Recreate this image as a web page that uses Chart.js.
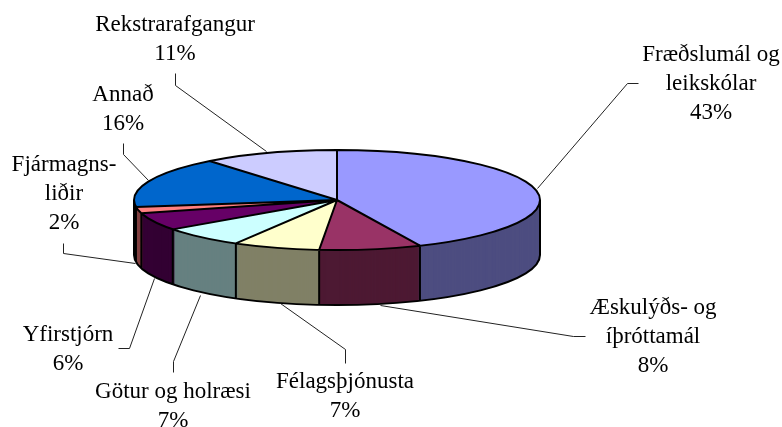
<!DOCTYPE html>
<html>
<head>
<meta charset="utf-8">
<style>
  html, body { margin: 0; padding: 0; background: #fff; overflow: hidden; }
  canvas { display: block; }
</style>
<script src="https://cdn.jsdelivr.net/npm/chart.js@4/dist/chart.umd.min.js"></script>
</head>
<body>
<canvas id="pie3d" width="782" height="427"></canvas>
<script>
// values in percent, clockwise from 12 o'clock
const categories = ['Fræðslumál og leikskólar', 'Æskulýðs- og íþróttamál', 'Félagsþjónusta', 'Götur og holræsi', 'Yfirstjórn', 'Fjármagnsliðir', 'Annað', 'Rekstrarafgangur'];
const values = [43.3, 8.1, 6.9, 6.7, 5.7, 2.1, 16.4, 10.8];
const topColors = ['#9999FF', '#993366', '#FFFFCC', '#CCFFFF', '#660066', '#FF8080', '#0066CC', '#CCCCFF'];
const sideColors = ['#4D4D80', '#4D1933', '#808066', '#668080', '#330033', '#804040', '#003366', '#666680'];
const labelLines = [
  ['Fræðslumál og', 'leikskólar'],
  ['Æskulýðs- og', 'íþróttamál'],
  ['Félagsþjónusta'],
  ['Götur og holræsi'],
  ['Yfirstjórn'],
  ['Fjármagns-', 'liðir'],
  ['Annað'],
  ['Rekstrarafgangur']
];

// layout of the squashed pie and its callouts, in page pixels
const pie = {cx: 337, cy: 200, rx: 203, ry: 50, depth: 55};
const labelPos = [[711, 61], [653, 314], [345, 388], [173, 398], [68, 341], [64, 171], [123, 101], [175, 31]];
const leaders = [
  [[638, 83], [627, 83], [537, 188]],
  [[585, 336], [573, 336], [380, 305]],
  [[345, 363], [345, 349], [280, 303]],
  [[173, 372], [173, 361], [200, 295]],
  [[118, 348], [129, 348], [154, 278]],
  [[63, 243], [63, 253], [135, 263]],
  [[123, 143], [123, 154], [148, 180]],
  [[175, 73], [175, 85], [266, 151]]
];

function squash(ctx, arc, dy){
  const k = arc.outerRadius;
  ctx.translate(pie.cx, pie.cy + dy);
  ctx.scale(pie.rx / k, pie.ry / k);
  ctx.translate(-arc.x, -arc.y);
}

const pie3d = {
  id: 'pie3d',
  beforeDatasetsDraw(chart){
    const ctx = chart.ctx;
    const arcs = chart.getDatasetMeta(0).data;
    // stack darker copies of the slices to build the rim
    for (let d = pie.depth; d > 0; d--){
      arcs.forEach(function(arc, i){
        const saved = arc.options;
        arc.options = Object.assign({}, saved, {backgroundColor: sideColors[i]});
        ctx.save();
        squash(ctx, arc, d);
        arc.draw(ctx);
        ctx.restore();
        arc.options = saved;
      });
    }
    ctx.save();
    squash(ctx, arcs[0], 0);
  },
  afterDatasetsDraw(chart){
    const ctx = chart.ctx;
    const arcs = chart.getDatasetMeta(0).data;
    ctx.restore();

    // outlines go on afterwards so the line width is not squashed too
    ctx.save();
    ctx.strokeStyle = '#000';
    ctx.lineWidth = 2;
    ctx.lineJoin = 'round';
    ctx.beginPath();
    ctx.ellipse(pie.cx, pie.cy, pie.rx, pie.ry, 0, 0, Math.PI * 2);
    ctx.moveTo(pie.cx + pie.rx, pie.cy);
    ctx.lineTo(pie.cx + pie.rx, pie.cy + pie.depth);
    ctx.ellipse(pie.cx, pie.cy + pie.depth, pie.rx, pie.ry, 0, 0, Math.PI);
    ctx.lineTo(pie.cx - pie.rx, pie.cy);
    arcs.forEach(function(arc){
      const px = pie.cx + Math.cos(arc.startAngle) * pie.rx;
      const py = pie.cy + Math.sin(arc.startAngle) * pie.ry;
      ctx.moveTo(pie.cx, pie.cy);
      ctx.lineTo(px, py);
      if (Math.sin(arc.startAngle) > 0){
        ctx.moveTo(px, py);
        ctx.lineTo(px, py + pie.depth);
      }
    });
    ctx.stroke();

    // callout lines
    ctx.strokeStyle = '#222';
    ctx.lineWidth = 1;
    leaders.forEach(function(pts){
      ctx.beginPath();
      pts.forEach(function(p, i){
        if (i === 0) ctx.moveTo(p[0] + 0.5, p[1] + 0.5);
        else ctx.lineTo(p[0] + 0.5, p[1] + 0.5);
      });
      ctx.stroke();
    });

    // labels
    ctx.fillStyle = '#000';
    ctx.font = '23px "Liberation Serif"';
    ctx.textAlign = 'center';
    ctx.textBaseline = 'alphabetic';
    labelLines.forEach(function(lines, i){
      const all = lines.concat(Math.round(values[i]) + '%');
      all.forEach(function(t, n){
        ctx.fillText(t, labelPos[i][0], labelPos[i][1] + n * 29);
      });
    });
    ctx.restore();
  }
};

new Chart(document.getElementById('pie3d').getContext('2d'), {
  type: 'pie',
  data: {
    labels: categories,
    datasets: [{data: values, backgroundColor: topColors, borderWidth: 0}]
  },
  options: {
    responsive: false,
    animation: false,
    layout: {padding: 0},
    plugins: {legend: {display: false}, tooltip: {enabled: false}}
  },
  plugins: [pie3d]
});
</script>
</body>
</html>
